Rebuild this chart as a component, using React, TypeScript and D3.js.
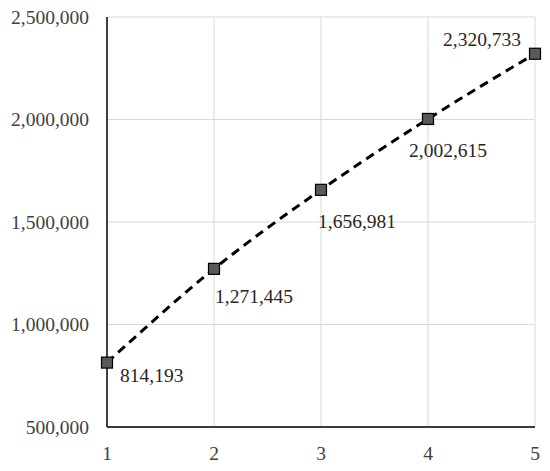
import React from "react";
import * as d3 from "d3";

const xValues = [1, 2, 3, 4, 5];
const yValues = [814193, 1271445, 1656981, 2002615, 2320733];
const yTicks = [500000, 1000000, 1500000, 2000000, 2500000];
const xTicks = [1, 2, 3, 4, 5];
// label offsets (dx to text start, dy to text middle)
const labelOffsets: [number, number][] = [
  [13, 13],
  [1, 28],
  [-3, 32],
  [-19, 32],
  [-92, -14],
];

export default function App() {
  const W = 550, H = 471;
  const left = 107, right = 535, top = 17, bottom = 427;
  const x = d3.scaleLinear().domain([1, 5]).range([left, right]);
  const y = d3.scaleLinear().domain([500000, 2500000]).range([bottom, top]);
  const fmt = d3.format(",");
  const line = d3
    .line<number>()
    .x((_, i) => x(xValues[i]))
    .y((d) => y(d))
    .curve(d3.curveMonotoneX);
  const font = "'Liberation Serif', 'Times New Roman', serif";
  return (
    <svg
      width={W}
      height={H}
      style={{ position: "absolute", left: 0, top: 0, background: "#fff" }}
    >
      {yTicks.map((t) => (
        <line key={"gy" + t} x1={left} x2={right} y1={y(t)} y2={y(t)} stroke="#d9d9d9" strokeWidth={1} />
      ))}
      {xTicks.slice(1).map((t) => (
        <line key={"gx" + t} x1={x(t)} x2={x(t)} y1={top} y2={bottom} stroke="#d9d9d9" strokeWidth={1} />
      ))}
      <line x1={left} x2={left} y1={top} y2={bottom} stroke="#000" strokeWidth={1.5} />
      <line x1={left} x2={right} y1={bottom} y2={bottom} stroke="#000" strokeWidth={1.5} />
      {yTicks.map((t) => (
        <text
          key={"ty" + t}
          x={89}
          y={y(t)}
          textAnchor="end"
          dominantBaseline="central"
          fontFamily={font}
          fontSize={19.5}
          fill="#404040"
        >
          {fmt(t)}
        </text>
      ))}
      {xTicks.map((t) => (
        <text
          key={"tx" + t}
          x={x(t)}
          y={453}
          textAnchor="middle"
          dominantBaseline="central"
          fontFamily={font}
          fontSize={19.5}
          fill="#404040"
        >
          {t}
        </text>
      ))}
      <path d={line(yValues) || ""} fill="none" stroke="#000" strokeWidth={3} strokeDasharray="9,6" />
      {yValues.map((v, i) => (
        <rect
          key={"m" + i}
          x={x(xValues[i]) - 5.5}
          y={y(v) - 5.5}
          width={11}
          height={11}
          fill="#595959"
          stroke="#000"
          strokeWidth={1.2}
        />
      ))}
      {yValues.map((v, i) => (
        <text
          key={"l" + i}
          x={x(xValues[i]) + labelOffsets[i][0]}
          y={y(v) + labelOffsets[i][1]}
          dominantBaseline="central"
          fontFamily={font}
          fontSize={19.5}
          fill="#262626"
        >
          {fmt(v)}
        </text>
      ))}
    </svg>
  );
}
